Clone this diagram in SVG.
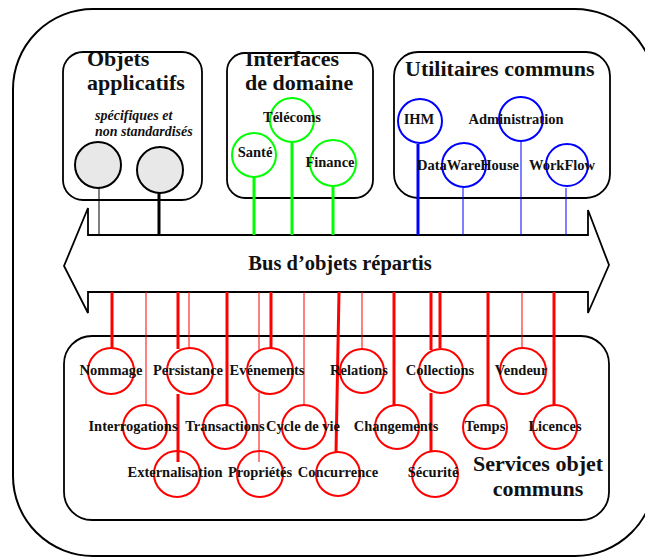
<svg xmlns="http://www.w3.org/2000/svg" width="645" height="558" viewBox="0 0 645 558">
<style>
.box{fill:none;stroke:#000;stroke-width:1.8}
.t{font-family:"Liberation Serif","Times New Roman",serif;font-weight:bold;fill:#111}
.title{font-size:22px}
.lbl{font-size:14.5px;text-anchor:middle}
.it{font-size:14px;font-style:italic}
.thin{stroke-width:1}
.thick{stroke-width:3}
.k{stroke:#000}
.g{stroke:#00ff00}
.b{stroke:#0000ff}
.r{stroke:#ff0000}
.cg{fill:none;stroke:#00ff00;stroke-width:2}
.cb{fill:none;stroke:#0000ff;stroke-width:2}
.cr{fill:none;stroke:#ff0000;stroke-width:2}
.cgray{fill:#e8e8e8;stroke:#000;stroke-width:2}
</style>
<rect width="645" height="558" fill="#fff"/>
<g id="outer"><rect x="13" y="9" width="642" height="547" rx="80" ry="80" fill="none" stroke="#000" stroke-width="2"/></g>

<g id="objets-applicatifs">
<rect class="box" x="63" y="52" width="139" height="148" rx="20"/>
<text class="t title" x="87" y="65.5">Objets</text>
<text class="t title" x="87" y="90.2">applicatifs</text>
<text class="t it" x="95" y="120">spécifiques et</text>
<text class="t it" x="95" y="136">non standardisés</text>
</g>
<g id="interfaces-domaine">
<rect class="box" x="227" y="53" width="146" height="145" rx="18"/>
<text class="t title" x="245" y="65.5">Interfaces</text>
<text class="t title" x="245" y="90.2">de domaine</text>
</g>
<g id="utilitaires-communs">
<rect class="box" x="394" y="52" width="216" height="146" rx="24"/>
<text class="t title" x="405" y="76" font-size="23">Utilitaires communs</text>
</g>
<g id="services-objet-communs">
<rect class="box" x="64" y="336" width="545" height="184" rx="28"/>
<text class="t title" x="538" y="471" text-anchor="middle">Services objet</text>
<text class="t title" x="538" y="495.7" text-anchor="middle">communs</text>
</g>

<g id="bus">
<path d="M88,235 L588,235 L588,210 L609,265 L588,313 L588,292 L88,292 L88,313 L64,266 L88,208 Z" fill="#fff" stroke="#000" stroke-width="1.8" stroke-linejoin="miter"/>
<text class="t" x="340" y="270" font-size="20.5" text-anchor="middle">Bus d’objets répartis</text>
</g>

<g id="connectors" fill="none">
<line class="k thin" x1="99" y1="188" x2="99" y2="235"/>
<line class="k thick" x1="159" y1="193" x2="159" y2="235"/>
<line class="g thick" x1="254" y1="177" x2="254" y2="235"/>
<line class="g thick" x1="292" y1="142" x2="292" y2="235"/>
<line class="g thick" x1="333" y1="186" x2="333" y2="235"/>
<line class="b thick" x1="418" y1="144" x2="418" y2="235"/>
<line class="b thin" x1="463" y1="188" x2="463" y2="235"/>
<line class="b thin" x1="521" y1="142" x2="521" y2="235"/>
<line class="b thin" x1="566" y1="188" x2="566" y2="235"/>
<line class="r thick" x1="112" y1="292" x2="112" y2="348"/>
<line class="r thin" x1="146" y1="292" x2="146" y2="405"/>
<line class="r thick" x1="178" y1="292" x2="178" y2="349"/>
<line class="r thick" x1="178" y1="394" x2="178" y2="462"/>
<line class="r thin" x1="189" y1="292" x2="189" y2="348"/>
<line class="r thick" x1="227" y1="292" x2="227" y2="405"/>
<line class="r thin" x1="259" y1="292" x2="259" y2="351"/>
<line class="r thin" x1="259" y1="393" x2="259" y2="462"/>
<line class="r thick" x1="271" y1="292" x2="271" y2="348"/>
<line class="r thin" x1="304" y1="292" x2="304" y2="405"/>
<line class="r thick" x1="339" y1="292" x2="336" y2="452"/>
<line class="r thin" x1="362" y1="292" x2="362" y2="348"/>
<line class="r thick" x1="394" y1="292" x2="394" y2="405"/>
<line class="r thick" x1="431" y1="292" x2="431" y2="350"/>
<line class="r thick" x1="431" y1="393" x2="431" y2="452"/>
<line class="r thick" x1="440" y1="292" x2="440" y2="348"/>
<line class="r thick" x1="488" y1="292" x2="488" y2="405"/>
<line class="r thin" x1="522" y1="292" x2="522" y2="348"/>
<line class="r thick" x1="554" y1="292" x2="554" y2="405"/>
</g>

<g id="obj1"><circle class="cgray" cx="98" cy="165" r="23"/></g>
<g id="obj2"><circle class="cgray" cx="160" cy="170" r="23"/></g>

<g id="telecoms"><circle class="cg" cx="292" cy="120" r="22"/><text class="t lbl" x="292" y="122">Télécoms</text></g>
<g id="sante"><circle class="cg" cx="254" cy="155" r="22"/><text class="t lbl" x="255" y="157">Santé</text></g>
<g id="finance"><circle class="cg" cx="333" cy="163" r="23"/><text class="t lbl" x="330" y="167">Finance</text></g>

<g id="ihm"><circle class="cb" cx="420" cy="121" r="22"/><text class="t lbl" x="419" y="124">IHM</text></g>
<g id="administration"><circle class="cb" cx="521" cy="119" r="22"/><text class="t lbl" x="516" y="124">Administration</text></g>
<g id="datawarehouse"><circle class="cb" cx="464" cy="165" r="22"/><text class="t lbl" x="468" y="170">DataWareHouse</text></g>
<g id="workflow"><circle class="cb" cx="567" cy="165" r="21"/><text class="t lbl" x="562" y="170">WorkFlow</text></g>

<g id="nommage"><circle class="cr" cx="111" cy="371" r="23"/><text class="t lbl" x="111" y="375">Nommage</text></g>
<g id="persistance"><circle class="cr" cx="190" cy="371" r="23"/><text class="t lbl" x="188" y="375">Persistance</text></g>
<g id="evenements"><circle class="cr" cx="270" cy="371" r="23"/><text class="t lbl" x="267" y="375">Evénements</text></g>
<g id="relations"><circle class="cr" cx="362" cy="371" r="22"/><text class="t lbl" x="359" y="375">Relations</text></g>
<g id="collections"><circle class="cr" cx="441" cy="371" r="22"/><text class="t lbl" x="440" y="375">Collections</text></g>
<g id="vendeur"><circle class="cr" cx="523" cy="371" r="23"/><text class="t lbl" x="521" y="375">Vendeur</text></g>
<g id="interrogations"><circle class="cr" cx="145" cy="427" r="22"/><text class="t lbl" x="133" y="431">Interrogations</text></g>
<g id="transactions"><circle class="cr" cx="225" cy="427" r="22"/><text class="t lbl" x="225" y="431">Transactions</text></g>
<g id="cycle-de-vie"><circle class="cr" cx="304" cy="427" r="22"/><text class="t lbl" x="303" y="431">Cycle de vie</text></g>
<g id="changements"><circle class="cr" cx="397" cy="427" r="22"/><text class="t lbl" x="396" y="431">Changements</text></g>
<g id="temps"><circle class="cr" cx="485" cy="427" r="22"/><text class="t lbl" x="485" y="431">Temps</text></g>
<g id="licences"><circle class="cr" cx="555" cy="427" r="22"/><text class="t lbl" x="555" y="431">Licences</text></g>
<g id="externalisation"><circle class="cr" cx="177" cy="474" r="23"/><text class="t lbl" x="175" y="477">Externalisation</text></g>
<g id="proprietes"><circle class="cr" cx="260" cy="474" r="23"/><text class="t lbl" x="260" y="477">Propriétés</text></g>
<g id="concurrence"><circle class="cr" cx="338" cy="474" r="22"/><text class="t lbl" x="338" y="477">Concurrence</text></g>
<g id="securite"><circle class="cr" cx="435" cy="474" r="23"/><text class="t lbl" x="433" y="477">Sécurité</text></g>
</svg>
